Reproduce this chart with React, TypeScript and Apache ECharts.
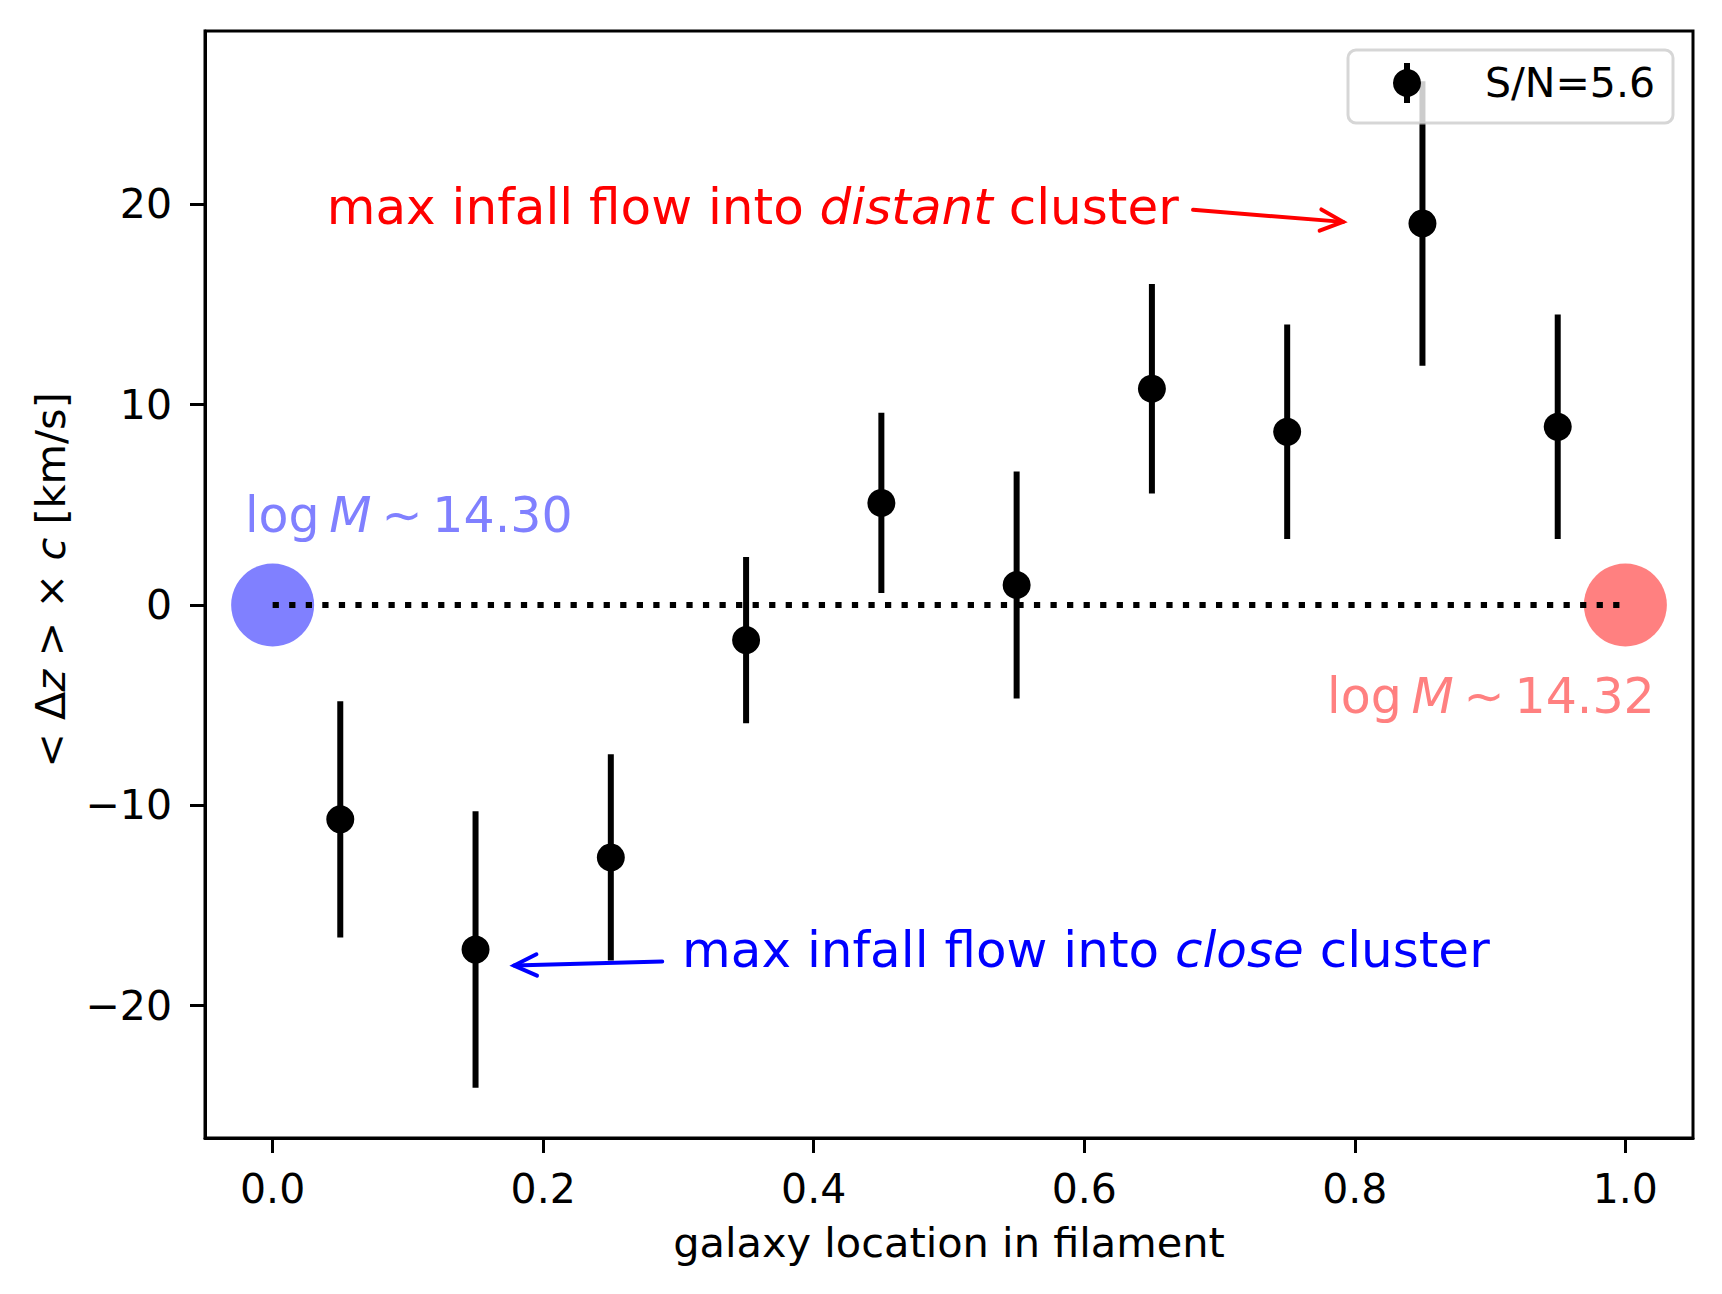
import React, { useEffect, useRef } from "react";
import * as echarts from "echarts";

// ---- data ----
const xPos = [0.05, 0.15, 0.25, 0.35, 0.45, 0.55, 0.65, 0.75, 0.85, 0.95];
const meanDz = [-10.7, -17.2, -12.6, -1.75, 5.1, 1.0, 10.8, 8.65, 19.05, 8.9];
const errDz = [5.9, 6.9, 5.15, 4.15, 4.5, 5.67, 5.23, 5.35, 7.1, 5.6];
const xTicks = [0, 0.2, 0.4, 0.6, 0.8, 1.0];
const yTicks = [-20, -10, 0, 10, 20];
const closeCluster = [[0, 0]];
const distantCluster = [[1, 0]];
const zeroLine = [[0, 0], [1, 0]];
const legendLabel = "S/N=5.6";
const closeMassLabel = "14.30";
const distantMassLabel = "14.32";

const X_MIN = -0.05;
const X_MAX = 1.05;
const Y_MIN = -26.61;
const Y_MAX = 28.66;

const F = "DejaVu Sans";
const TICK_FS = 41;
const LABEL_FS = 41.5;
const ANN_FS = 50;
const MASS_FS = 49;
const MID = 0.346; // baseline offset of the em-box centre, in em

function arrow(tail: number[], tip: number[], color: string, lw: number) {
  const headLen = 25;
  const headAng = 0.44;
  const ang = Math.atan2(tip[1] - tail[1], tip[0] - tail[0]);
  const b1 = [tip[0] - headLen * Math.cos(ang - headAng), tip[1] - headLen * Math.sin(ang - headAng)];
  const b2 = [tip[0] - headLen * Math.cos(ang + headAng), tip[1] - headLen * Math.sin(ang + headAng)];
  return [
    {
      type: "line",
      z: 50,
      shape: { x1: tail[0], y1: tail[1], x2: tip[0], y2: tip[1] },
      style: { stroke: color, lineWidth: lw, lineCap: "round" },
    },
    {
      type: "polyline",
      z: 50,
      shape: { points: [b1, tip, b2] },
      style: { stroke: color, lineWidth: lw, fill: null, lineCap: "round", lineJoin: "miter" },
    },
  ];
}

export default function App() {
  const ref = useRef<HTMLDivElement>(null);

  useEffect(() => {
    const chart = echarts.init(ref.current!, null, { renderer: "svg", width: 1722, height: 1294 });
    const minus = (v: number) => String(v).replace("-", "\u2212");

    chart.setOption({
      animation: false,
      backgroundColor: "#ffffff",
      textStyle: { fontFamily: F },
      grid: {
        left: 205,
        right: 29,
        top: 31,
        bottom: 156,
        show: true,
        borderColor: "#000",
        borderWidth: 3,
        backgroundColor: "transparent",
      },
      xAxis: {
        type: "value",
        min: X_MIN,
        max: X_MAX,
        splitLine: { show: false },
        axisLine: { show: true, onZero: false, lineStyle: { color: "#000", width: 3 } },
        axisTick: { show: true, length: 15, inside: false, customValues: xTicks, lineStyle: { color: "#000", width: 3 } },
        axisLabel: {
          show: true,
          customValues: xTicks,
          margin: 30,
          fontSize: TICK_FS,
          fontFamily: F,
          color: "#000",
          formatter: (v: number) => v.toFixed(1),
        },
      },
      yAxis: {
        type: "value",
        min: Y_MIN,
        max: Y_MAX,
        splitLine: { show: false },
        axisLine: { show: true, onZero: false, lineStyle: { color: "#000", width: 3 } },
        axisTick: { show: true, length: 15, inside: false, customValues: yTicks, lineStyle: { color: "#000", width: 3 } },
        axisLabel: {
          show: true,
          customValues: yTicks,
          margin: 33,
          fontSize: TICK_FS,
          fontFamily: F,
          color: "#000",
          formatter: (v: number) => minus(Math.round(v)),
        },
      },
      series: [
        {
          name: "close cluster",
          type: "scatter",
          data: closeCluster,
          symbolSize: 83,
          itemStyle: { color: "#8080ff", opacity: 1 },
          silent: true,
          z: 1,
        },
        {
          name: "distant cluster",
          type: "scatter",
          data: distantCluster,
          symbolSize: 83,
          itemStyle: { color: "#ff8080", opacity: 1 },
          silent: true,
          z: 1,
        },
        {
          name: "zero",
          type: "line",
          data: zeroLine,
          symbol: "none",
          showSymbol: false,
          silent: true,
          lineStyle: { color: "#000", width: 6, type: [6.25, 10.3], cap: "butt", opacity: 1 },
          z: 2,
        },
        {
          name: "errors",
          type: "custom",
          data: xPos.map((x, i) => [x, meanDz[i], errDz[i]]),
          encode: { x: 0, y: 1 },
          silent: true,
          clip: false,
          z: 3,
          renderItem: (params: any, api: any) => {
            const x = api.value(0);
            const y = api.value(1);
            const e = api.value(2);
            const p1 = api.coord([x, y + e]);
            const p2 = api.coord([x, y - e]);
            return {
              type: "line",
              shape: { x1: p1[0], y1: p1[1], x2: p2[0], y2: p2[1] },
              style: { stroke: "#000", lineWidth: 6 },
            };
          },
        },
        {
          name: legendLabel,
          type: "scatter",
          data: xPos.map((x, i) => [x, meanDz[i]]),
          symbolSize: 28,
          itemStyle: { color: "#000", opacity: 1 },
          silent: true,
          z: 4,
        },
      ],
    });

    const px = (p: number[]) => chart.convertToPixel({ gridIndex: 0 }, p) as number[];

    const redTextStart = px([0.04, 19]);
    const redTail = px([0.6804, 19.73]);
    const redTip = px([0.7913, 19.13]);
    const blueTextStart = px([0.3027, -18.1]);
    const blueTail = px([0.288, -17.8]);
    const blueTip = px([0.1785, -18.0]);
    const blueMass = px([-0.0205, 3.6]);
    const redMass = px([0.7795, -5.39]);

    const richAnn = (color: string, fs: number) => ({
      n: { fontSize: fs, fontFamily: F, fill: color },
      i: { fontSize: fs, fontFamily: F, fill: color, fontStyle: "italic" },
    });

    const massText = (v: string) => "{n|log\u2009}{i|M}{n|\u2009\u223C\u2009" + v + "}";

    const graphics: any[] = [
      {
        type: "text",
        z: 50,
        x: redTextStart[0],
        y: redTextStart[1] - MID * ANN_FS,
        style: {
          text: "{n|max infall flow into }{i|distant}{n| cluster}",
          rich: richAnn("#ff0000", ANN_FS),
          fontSize: ANN_FS,
          fontFamily: F,
          fill: "#ff0000",
          align: "left",
          verticalAlign: "middle",
        },
      },
      ...arrow(redTail, redTip, "#ff0000", 4),
      {
        type: "text",
        z: 50,
        x: blueTextStart[0],
        y: blueTextStart[1] - MID * ANN_FS,
        style: {
          text: "{n|max infall flow into }{i|close}{n| cluster}",
          rich: richAnn("#0000ff", ANN_FS),
          fontSize: ANN_FS,
          fontFamily: F,
          fill: "#0000ff",
          align: "left",
          verticalAlign: "middle",
        },
      },
      ...arrow(blueTail, blueTip, "#0000ff", 4),
      {
        type: "text",
        z: 50,
        x: blueMass[0],
        y: blueMass[1] - MID * MASS_FS,
        style: {
          text: massText(closeMassLabel),
          rich: richAnn("#8080ff", MASS_FS),
          fontSize: MASS_FS,
          fontFamily: F,
          fill: "#8080ff",
          align: "left",
          verticalAlign: "middle",
        },
      },
      {
        type: "text",
        z: 50,
        x: redMass[0],
        y: redMass[1] - MID * MASS_FS,
        style: {
          text: massText(distantMassLabel),
          rich: richAnn("#ff8080", MASS_FS),
          fontSize: MASS_FS,
          fontFamily: F,
          fill: "#ff8080",
          align: "left",
          verticalAlign: "middle",
        },
      },
      // axis titles
      {
        type: "text",
        z: 50,
        x: 949,
        y: 1257 - MID * LABEL_FS,
        style: {
          text: "galaxy location in filament",
          fontSize: LABEL_FS,
          fontFamily: F,
          fill: "#000",
          align: "center",
          verticalAlign: "middle",
        },
      },
      {
        type: "text",
        z: 50,
        x: 50,
        y: 580,
        rotation: Math.PI / 2,
        style: {
          text: "{n|< \u0394}{i|z}{n| > \u00D7 }{i|c}{n| [km/s]}",
          rich: richAnn("#000", LABEL_FS),
          fontSize: LABEL_FS,
          fontFamily: F,
          fill: "#000",
          align: "center",
          verticalAlign: "middle",
        },
      },
      // legend
      {
        type: "rect",
        z: 100,
        shape: { x: 1348, y: 50, width: 325, height: 73, r: 8 },
        style: { fill: "rgba(255,255,255,0.8)", stroke: "rgba(204,204,204,0.8)", lineWidth: 3 },
      },
      {
        type: "line",
        z: 101,
        shape: { x1: 1407, y1: 63, x2: 1407, y2: 103 },
        style: { stroke: "#000", lineWidth: 6 },
      },
      {
        type: "circle",
        z: 101,
        shape: { cx: 1407, cy: 83, r: 14 },
        style: { fill: "#000" },
      },
      {
        type: "text",
        z: 101,
        x: 1485,
        y: 97 - MID * TICK_FS,
        style: {
          text: legendLabel,
          fontSize: TICK_FS,
          fontFamily: F,
          fill: "#000",
          align: "left",
          verticalAlign: "middle",
        },
      },
    ];

    chart.setOption({ graphic: { elements: graphics } });

    return () => chart.dispose();
  }, []);

  return (
    <div
      ref={ref}
      style={{ position: "absolute", left: 0, top: 0, width: 1722, height: 1294, background: "#fff" }}
    />
  );
}
